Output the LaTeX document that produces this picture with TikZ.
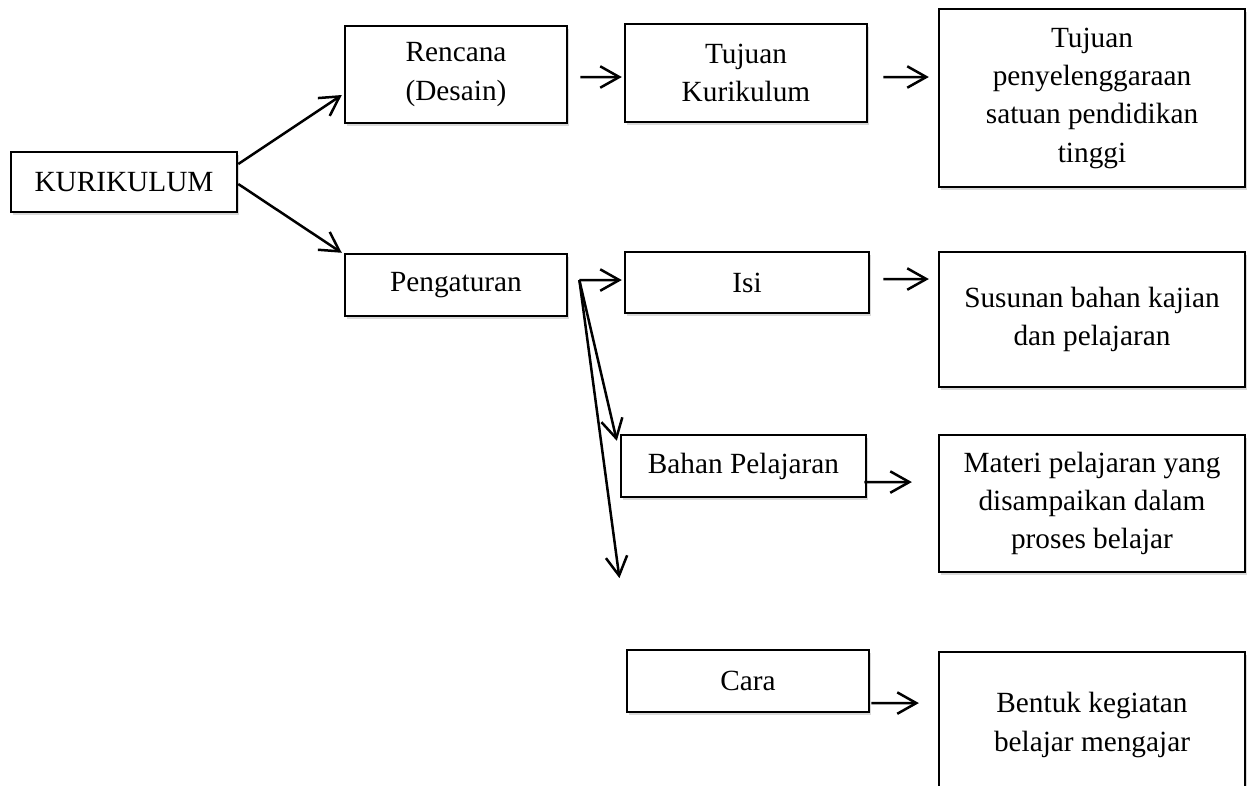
\documentclass[tikz,border=0pt]{standalone}
\usepackage{fontspec}
\setmainfont{Liberation Serif}
\usetikzlibrary{arrows.meta,calc,shadows}

\tikzset{
  boxnode/.style={draw, line width=1.05pt, fill=white, align=center, inner sep=1pt,
    font=\fontsize{12.3pt}{16.1pt}\selectfont,
    drop shadow={shadow xshift=1pt, shadow yshift=-1.2pt, opacity=0.3}},
  flowarrow/.style={line width=1.05pt, -{Straight Barb[length=8pt,width=9pt,line width=1.05pt]}}
}

\begin{document}
\begin{tikzpicture}[x=0.75pt,y=0.75pt,yscale=-0.56,xscale=0.56]
\clip (0,0) rectangle (1249,785);

%Shape: Rectangle
\node[boxnode, minimum width=94.92pt, minimum height=25.2pt] (kurikulum) at (124,182) {KURIKULUM};
%Shape: Rectangle
\node[boxnode, minimum width=93.24pt, minimum height=40.74pt] (rencana) at (456,74.5) {Rencana\\(Desain)};
%Shape: Rectangle
\node[boxnode, minimum width=101.64pt, minimum height=41.16pt] (tujuankur) at (746,73) {Tujuan\\Kurikulum};
%Shape: Rectangle
\node[boxnode, minimum width=128.52pt, minimum height=74.76pt] (tujuanpt) at (1092,98) {Tujuan\\penyelenggaraan\\satuan pendidikan\\tinggi};
%Shape: Rectangle
\node[boxnode, minimum width=93.24pt, minimum height=26.04pt] (pengaturan) at (456,285) {Pengaturan};
%Shape: Rectangle
\node[boxnode, minimum width=102.48pt, minimum height=25.62pt] (isi) at (747,282.5) {Isi};
%Shape: Rectangle
\node[boxnode, minimum width=128.52pt, minimum height=56.7pt] (susunan) at (1092,319.5) {Susunan bahan kajian\\dan pelajaran};
%Shape: Rectangle
\node[boxnode, minimum width=102.9pt, minimum height=26.04pt] (bahan) at (743.5,466) {Bahan Pelajaran};
%Shape: Rectangle
\node[boxnode, minimum width=128.52pt, minimum height=57.54pt] (materi) at (1092,503.5) {Materi pelajaran yang\\disampaikan dalam\\proses belajar};
%Shape: Rectangle
\node[boxnode, minimum width=101.64pt, minimum height=26.04pt] (cara) at (748,681) {Cara};
%Shape: Rectangle
\node[boxnode, minimum width=128.52pt, minimum height=61.32pt] (bentuk) at (1092,725) {Bentuk kegiatan\\belajar mengajar};

%Straight Lines
\draw[flowarrow] ($(kurikulum.east)+(0,-18)$) -- ($(rencana.west)+(-2,20.5)$);
\draw[flowarrow] ($(kurikulum.east)+(0,2)$) -- ($(pengaturan.north west)+(-2,0)$);
\draw[flowarrow] ($(rencana.east)+(12,2.5)$) -- ($(tujuankur.west)+(-2,4)$);
\draw[flowarrow] ($(tujuankur.east)+(15,4)$) -- ($(tujuanpt.west)+(-9,-21)$);

%Straight Lines
\coordinate (fork) at ($(pengaturan.east)+(11,-5)$);
\coordinate (caraend) at ($(fork)+(40,298)$);
\draw[flowarrow] (fork) -- ($(isi.west)+(-2,-2.5)$);
\draw[flowarrow] (fork) -- ($(bahan.north west)+(-3,7)$);
\draw[flowarrow] (fork) -- (caraend);

%Straight Lines
\draw[flowarrow] ($(isi.east)+(13,-3.5)$) -- ($(susunan.west)+(-9,-40.5)$);
\draw[flowarrow] ($(bahan.east)+(-3,16)$) -- ($(materi.west)+(-26,-21.5)$);
\draw[flowarrow] ($(cara.east)+(1,22)$) -- ($(bentuk.west)+(-19,-22)$);

\end{tikzpicture}
\end{document}
